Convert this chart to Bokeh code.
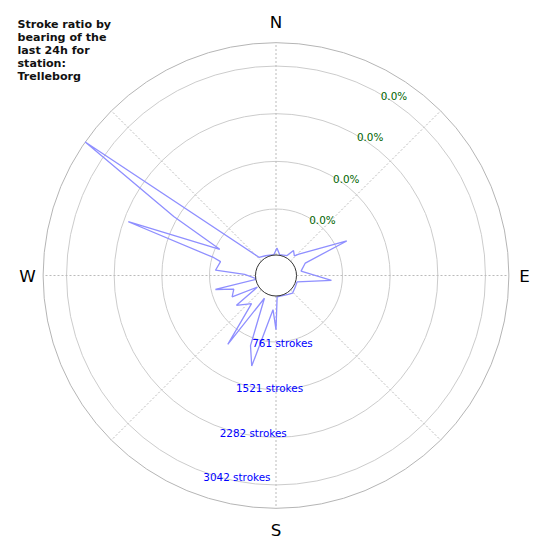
import numpy as np
from bokeh.plotting import figure
from bokeh.models import Range1d
from bokeh.embed import file_html
from bokeh.resources import INLINE
from bokeh.core.properties import value

# ---------------- data ----------------
title_lines = ["Stroke ratio by", "bearing of the", "last 24h for", "station:", "Trelleborg"]

bearings = [2, 10, 29, 35, 43, 47, 64, 67, 80, 95, 107, 121, 137, 147, 177, 180,
            185, 195, 200, 207, 215, 221, 233, 238, 244, 252, 257, 259, 272, 275,
            284, 286, 290, 295, 300, 305, 317, 332, 354]
strokes = [139, 37, 63, 187, 130, 200, 956, 208, 106, 588, 51, 59, 87, 59, 43, 565,
           247, 1196, 890, 107, 1041, 295, 490, 50, 479, 408, 692, 5, 200, 669,
           612, 730, 2208, 690, 1584, 3416, 98, 57, 34]

ring_strokes = [761, 1521, 2282, 3042]
ring_labels = ["761 strokes", "1521 strokes", "2282 strokes", "3042 strokes"]
pct_labels = ["0.0%", "0.0%", "0.0%", "0.0%"]
cardinals = ["N", "E", "S", "W"]
cardinal_bearings = [0, 90, 180, 270]
spoke_bearings = [0, 45, 90, 135, 180, 225, 270, 315]

# ---------------- geometry / style ----------------
PX = 760.6 / 47.67          # data units per screen pixel
R0 = 18.8 * PX              # radial origin offset (hole)
HOLE = 20.5 * PX
CX, CY = 275.5, 275.0       # centre in page pixels
FW = FH = 550
OFF = 0


def px_x(px):
    return (px - CX) * PX


def px_y(py):
    return (CY - py) * PX


def polar(b_deg, r):
    t = np.radians(np.asarray(b_deg, dtype=float))
    r = np.asarray(r, dtype=float)
    return r * np.sin(t), r * np.cos(t)


rmax = R0 + max(strokes)

p = figure(width=FW, height=FH,
           x_range=Range1d(px_x(OFF), px_x(OFF + FW)),
           y_range=Range1d(px_y(OFF + FH), px_y(OFF)),
           output_backend="svg", toolbar_location=None, min_border=0)
p.axis.visible = False
p.grid.visible = False
p.outline_line_color = None
p.background_fill_color = "white"

# rings
ring_r = [R0 + v for v in ring_strokes]
p.circle(x=[0] * len(ring_r), y=[0] * len(ring_r), radius=ring_r,
         fill_color=None, line_color="#cccccc", line_width=1)
# outer circle
p.circle(x=[0], y=[0], radius=[rmax], fill_color=None, line_color="#b5b5b5", line_width=1)

# spokes
sx0, sy0 = polar(spoke_bearings, [HOLE] * len(spoke_bearings))
sx1, sy1 = polar(spoke_bearings, [rmax] * len(spoke_bearings))
p.segment(x0=sx0, y0=sy0, x1=sx1, y1=sy1, line_color="#bbbbbb",
          line_width=1, line_dash="2 2")

# data polygon
bb = bearings + [bearings[0]]
ss = strokes + [strokes[0]]
lx, ly = polar(bb, [R0 + s for s in ss])
p.line(lx, ly, line_color="#8f8fff", line_width=1.3)

# hole
p.circle(x=[0], y=[0], radius=[HOLE], fill_color="white", line_color="#333333", line_width=1)

# percent labels (bearing 30)
gx, gy = polar([30] * 4, ring_r)
p.text(x=gx, y=gy, text=pct_labels, text_align="left", text_baseline="middle",
       y_offset=2, text_font=value("DejaVu Sans"), text_font_size="10.4px",
       text_color="#006400")

# stroke labels (bearing 200)
bx, by = polar([200] * 4, ring_r)
p.text(x=bx, y=by, text=ring_labels, text_align="left", text_baseline="middle",
       x_offset=-1, y_offset=5, text_font=value("DejaVu Sans"), text_font_size="10.4px",
       text_color="blue")

# cardinal labels
card_r = [254 * PX, 248.5 * PX, 254 * PX, 248.5 * PX]
cx_, cy_ = polar(cardinal_bearings, card_r)
p.text(x=cx_, y=cy_, text=cardinals, text_align="center", text_baseline="middle",
       text_font=value("DejaVu Sans"), text_font_size="16.7px", text_color="black")

# title
tx = [px_x(17)] * len(title_lines)
ty = [px_y(24 + 13 * i) for i in range(len(title_lines))]
p.text(x=tx, y=ty, text=title_lines, text_align="left", text_baseline="alphabetic",
       text_font=value("DejaVu Sans"), text_font_style="bold", text_font_size="11.1px",
       text_color="#111111")

open("out.html", "w").write(file_html(p, INLINE))
